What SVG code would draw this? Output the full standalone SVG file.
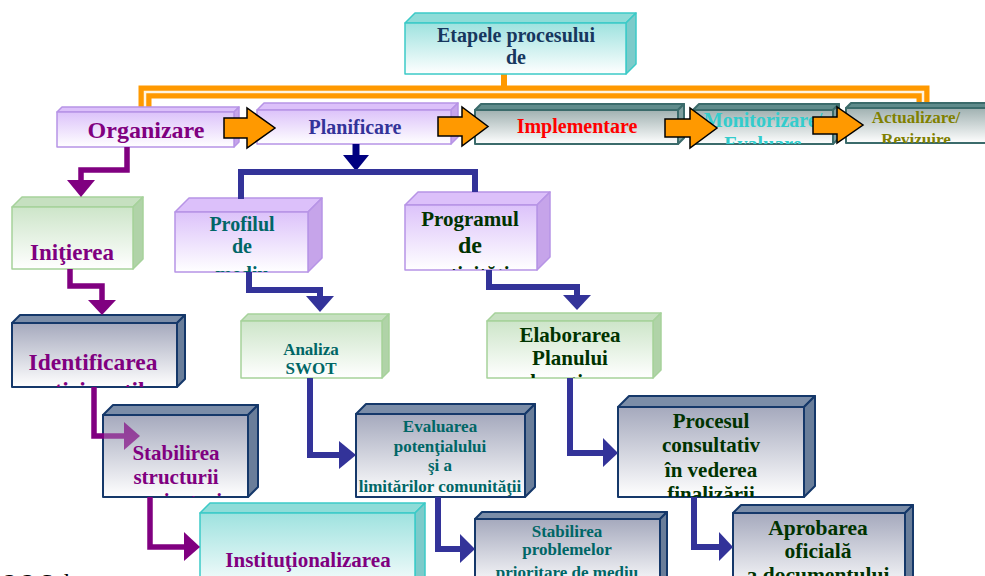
<svg xmlns="http://www.w3.org/2000/svg" width="985" height="576" viewBox="0 0 985 576">
<defs>
<linearGradient id="gLav" x1="0" y1="0" x2="0" y2="1"><stop offset="0" stop-color="#dcc2fa"/><stop offset="1" stop-color="#ffffff"/></linearGradient>
<linearGradient id="gGrn" x1="0" y1="0" x2="0" y2="1"><stop offset="0" stop-color="#cde5c9"/><stop offset="1" stop-color="#ffffff"/></linearGradient>
<linearGradient id="gTeal" x1="0" y1="0" x2="0" y2="1"><stop offset="0" stop-color="#9ee2df"/><stop offset="1" stop-color="#ffffff"/></linearGradient>
<linearGradient id="gSlate" x1="0" y1="0" x2="0" y2="1"><stop offset="0" stop-color="#a5a9bd"/><stop offset="1" stop-color="#ffffff"/></linearGradient>
<linearGradient id="gGt" x1="0" y1="0" x2="0" y2="1"><stop offset="0" stop-color="#a0b1b1"/><stop offset="1" stop-color="#ffffff"/></linearGradient>
<clipPath id="c1"><rect x="405" y="23" width="221" height="51"/></clipPath>
<clipPath id="c5"><rect x="693" y="110" width="140" height="34"/></clipPath>
<clipPath id="c6"><rect x="846" y="108" width="150" height="35"/></clipPath>
<clipPath id="c8"><rect x="175" y="212" width="133" height="60"/></clipPath>
<clipPath id="c9"><rect x="405" y="205" width="132" height="65"/></clipPath>
<clipPath id="c10"><rect x="12" y="323" width="165" height="64"/></clipPath>
<clipPath id="c12"><rect x="487" y="321" width="166" height="57"/></clipPath>
<clipPath id="c13"><rect x="103" y="415" width="145" height="82"/></clipPath>
<clipPath id="c15"><rect x="618" y="407" width="186" height="90"/></clipPath>
<clipPath id="c17"><rect x="475" y="519" width="185" height="70"/></clipPath>
<clipPath id="c18"><rect x="733" y="513" width="172" height="80"/></clipPath>
</defs>
<style>
text{font-family:"Liberation Serif","Times New Roman",serif;font-weight:bold;text-anchor:middle}
.lav{stroke:#b794e6;stroke-width:1.5;stroke-linejoin:round}
.lav .f{fill:url(#gLav)} .lav .t{fill:#dcc0fa} .lav .s{fill:#c6a4ea}
.grn{stroke:#a6d29b;stroke-width:1.5;stroke-linejoin:round}
.grn .f{fill:url(#gGrn)} .grn .t{fill:#c6e0c0} .grn .s{fill:#b0d3a8}
.teal{stroke:#3ccac7;stroke-width:1.5;stroke-linejoin:round}
.teal .f{fill:url(#gTeal)} .teal .t{fill:#8edcd8} .teal .s{fill:#7ccbca}
.slate{stroke:#15386a;stroke-width:2;stroke-linejoin:round}
.slate .f{fill:url(#gSlate)} .slate .t{fill:#7b8da8} .slate .s{fill:#6a7e9a}
.gt{stroke:#3b6b6b;stroke-width:2;stroke-linejoin:round}
.gt .f{fill:url(#gGt)} .gt .t{fill:#5f8b8b} .gt .s{fill:#7f9f9f}
text{stroke:none}
.pur{fill:#800080}.blu{fill:#333399}.tl{fill:#006666}.dg{fill:#003300}
.lp{fill:none;stroke:#800080;stroke-width:5.5}
.lb{fill:none;stroke:#333399;stroke-width:6}
.oa{fill:#ff9900;stroke:#000;stroke-width:1.5;stroke-linejoin:miter}
</style>
<text x="4" y="590" style="font-size:24px;font-weight:normal;text-anchor:start;fill:#000"><tspan font-weight="bold">2.2</tspan> Schema</text>
<g id="connectors-under">
<path d="M145,108 V92 H923 V104" fill="none" stroke="#ff9900" stroke-width="13"/>
<path d="M145,108 V92 H923 V104" fill="none" stroke="#fff4e0" stroke-width="2.5"/>
<line x1="504" y1="74" x2="504" y2="90" stroke="#ff9900" stroke-width="6"/>
</g>
<g id="n-etapele" class="teal">
<polygon class="t" points="405,23 415,13 636,13 626,23"/><polygon class="s" points="626,23 636,13 636,64 626,74"/><rect class="f" x="405" y="23" width="221" height="51"/>
<g clip-path="url(#c1)" style="font-size:20px;fill:#17375e"><text x="516" y="42">Etapele procesului</text><text x="516" y="64">de</text></g>
</g>
<g id="n-organizare" class="lav">
<polygon class="t" points="57,112 62,107 239,107 234,112"/><polygon class="s" points="234,112 239,107 239,142 234,147"/><rect class="f" x="57" y="112" width="177" height="35"/>
<text class="pur" x="146" y="138" style="font-size:24px">Organizare</text>
</g>
<g id="n-planificare" class="lav">
<polygon class="t" points="257,110 264,103 458,103 451,110"/><polygon class="s" points="451,110 458,103 458,137 451,144"/><rect class="f" x="257" y="110" width="194" height="34"/>
<text class="blu" x="355" y="134" style="font-size:20px">Planificare</text>
</g>
<g id="n-implementare" class="gt">
<polygon class="t" points="475,110 481,104 684,104 678,110"/><polygon class="s" points="678,110 684,104 684,138 678,144"/><rect class="f" x="475" y="110" width="203" height="34"/>
<text x="577" y="133" style="font-size:20px;fill:#ff0000">Implementare</text>
</g>
<g id="n-monitorizare" class="gt">
<polygon class="t" points="693,110 699,104 839,104 833,110"/><polygon class="s" points="833,110 839,104 839,138 833,144"/><rect class="f" x="693" y="110" width="140" height="34"/>
<g clip-path="url(#c5)" style="font-size:20px;fill:#33cccc"><text x="763" y="127">Monitorizare/</text><text x="763" y="151">Evaluare</text></g>
</g>
<g id="n-actualizare" class="gt">
<polygon class="t" points="846,108 851,103 1001,103 996,108"/><rect class="f" x="846" y="108" width="150" height="35"/>
<g clip-path="url(#c6)" style="font-size:17px;fill:#808000"><text x="916" y="123">Actualizare/</text><text x="916" y="145">Revizuire</text></g>
</g>
<g id="n-initierea" class="grn">
<polygon class="t" points="12,207 22,197 143,197 133,207"/><polygon class="s" points="133,207 143,197 143,259 133,269"/><rect class="f" x="12" y="207" width="121" height="62"/>
<text class="pur" x="72" y="260" style="font-size:23px">Iniţierea</text>
</g>
<g id="n-profilul" class="lav">
<polygon class="t" points="175,212 189,198 322,198 308,212"/><polygon class="s" points="308,212 322,198 322,258 308,272"/><rect class="f" x="175" y="212" width="133" height="60"/>
<g clip-path="url(#c8)" style="font-size:20px"><text class="tl" x="242" y="231">Profilul</text><text class="tl" x="242" y="253">de</text><text class="tl" x="242" y="281">mediu</text></g>
</g>
<g id="n-programul" class="lav">
<polygon class="t" points="405,205 418,192 550,192 537,205"/><polygon class="s" points="537,205 550,192 550,257 537,270"/><rect class="f" x="405" y="205" width="132" height="65"/>
<g clip-path="url(#c9)"><text class="dg" x="470" y="226" style="font-size:21px">Programul</text><text class="dg" x="470" y="253" style="font-size:24px">de</text><text class="dg" x="470" y="281" style="font-size:21px">activităţi</text></g>
</g>
<g id="n-identificarea" class="slate">
<polygon class="t" points="12,323 20,315 185,315 177,323"/><polygon class="s" points="177,323 185,315 185,379 177,387"/><rect class="f" x="12" y="323" width="165" height="64"/>
<g clip-path="url(#c10)" style="font-size:23.5px"><text class="pur" x="93" y="370">Identificarea</text><text class="pur" x="93" y="398">participanţilor</text></g>
</g>
<g id="n-analiza" class="grn">
<polygon class="t" points="241,321 248,314 389,314 382,321"/><polygon class="s" points="382,321 389,314 389,371 382,378"/><rect class="f" x="241" y="321" width="141" height="57"/>
<text class="tl" x="311" y="355" style="font-size:17px">Analiza</text><text class="tl" x="311" y="374" style="font-size:17px">SWOT</text>
</g>
<g id="n-elaborarea" class="grn">
<polygon class="t" points="487,321 495,313 661,313 653,321"/><polygon class="s" points="653,321 661,313 661,370 653,378"/><rect class="f" x="487" y="321" width="166" height="57"/>
<g clip-path="url(#c12)" style="font-size:21px"><text class="dg" x="570" y="342">Elaborarea</text><text class="dg" x="570" y="365">Planului</text><text class="dg" x="570" y="389">de acţiune</text></g>
</g>
<g id="n-stabilirea-structurii" class="slate">
<polygon class="t" points="103,415 113,405 258,405 248,415"/><polygon class="s" points="248,415 258,405 258,487 248,497"/><rect class="f" x="103" y="415" width="145" height="82"/>
<g clip-path="url(#c13)" style="font-size:21px"><text class="pur" x="176" y="460">Stabilirea</text><text class="pur" x="176" y="484">structurii</text><text class="pur" x="176" y="508">organizatorice</text></g>
</g>
<g id="n-evaluarea" class="slate">
<polygon class="t" points="356,414 366,404 535,404 525,414"/><polygon class="s" points="525,414 535,404 535,487 525,497"/><rect class="f" x="356" y="414" width="169" height="83"/>
<g style="font-size:17px"><text class="tl" x="440" y="432">Evaluarea</text><text class="tl" x="440" y="452">potenţialului</text><text class="tl" x="440" y="471">şi a</text><text class="tl" x="440" y="492">limitărilor comunităţii</text></g>
</g>
<g id="n-procesul" class="slate">
<polygon class="t" points="618,407 629,396 815,396 804,407"/><polygon class="s" points="804,407 815,396 815,486 804,497"/><rect class="f" x="618" y="407" width="186" height="90"/>
<g clip-path="url(#c15)" style="font-size:21px"><text class="dg" x="711" y="428">Procesul</text><text class="dg" x="711" y="452">consultativ</text><text class="dg" x="711" y="477">în vederea</text><text class="dg" x="711" y="501">finalizării</text></g>
</g>
<g id="n-institutionalizarea" class="teal">
<polygon class="t" points="200,513 210,503 425,503 415,513"/><polygon class="s" points="415,513 425,503 425,583 415,593"/><rect class="f" x="200" y="513" width="215" height="80"/>
<text class="pur" x="308" y="567" style="font-size:21px">Instituţionalizarea</text>
</g>
<g id="n-stabilirea-problemelor" class="slate">
<polygon class="t" points="475,519 482,512 667,512 660,519"/><polygon class="s" points="660,519 667,512 667,582 660,589"/><rect class="f" x="475" y="519" width="185" height="70"/>
<g clip-path="url(#c17)" style="font-size:17px"><text class="tl" x="567" y="537">Stabilirea</text><text class="tl" x="567" y="555">problemelor</text><text class="tl" x="567" y="578">prioritare de mediu</text></g>
</g>
<g id="n-aprobarea" class="slate">
<polygon class="t" points="733,513 741,505 913,505 905,513"/><polygon class="s" points="905,513 913,505 913,585 905,593"/><rect class="f" x="733" y="513" width="172" height="80"/>
<g clip-path="url(#c18)" style="font-size:21.5px"><text class="dg" x="818" y="535">Aprobarea</text><text class="dg" x="818" y="558">oficială</text><text class="dg" x="818" y="582">a documentului</text></g>
</g>
<g id="connectors">
<polygon class="oa" points="224,118 247,118 247,108 275,128 247,148 247,138 224,138"/>
<polygon class="oa" points="438,117 462,117 462,107 488,126.5 462,146 462,136 438,136"/>
<polygon class="oa" points="665,119 690,119 690,108 717,128 690,148 690,137 665,137"/>
<polygon class="oa" points="813,117 837,117 837,107 863,125 837,143 837,134 813,134"/>
<path class="lp" d="M127,147 V170 H81 V182"/><polygon fill="#800080" points="67,180 95,180 81,197"/>
<path class="lp" d="M70,269 V286 H102 V301"/><polygon fill="#800080" points="88,300 116,300 102,315"/>
<path class="lp" d="M94,387 V436 H104"/>
<g opacity="0.65"><path class="lp" d="M103,436 H125"/><polygon fill="#800080" points="124,422 124,450 140,436"/></g>
<path class="lp" d="M150,497 V547 H185"/><polygon fill="#800080" points="184,532 184,561 200,547"/>
<line x1="356" y1="144" x2="356" y2="156" stroke="#000080" stroke-width="7"/><polygon fill="#000080" points="343,155 369,155 356,171"/>
<path class="lb" d="M241,199 V172 H475 V192"/>
<path class="lb" d="M249,272 V290 H320 V297"/><polygon fill="#333399" points="306,296 334,296 320,312"/>
<path class="lb" d="M489,270 V287 H577 V296"/><polygon fill="#333399" points="563,295 591,295 577,310"/>
<path class="lb" d="M310,378 V455 H340"/><polygon fill="#333399" points="339,441 339,469 356,455"/>
<path class="lb" d="M438,497 V549 H461"/><polygon fill="#333399" points="460,534 460,563 475,549"/>
<path class="lb" d="M570,378 V453 H604"/><polygon fill="#333399" points="603,438 603,467 618,453"/>
<path class="lb" d="M694,497 V547 H720"/><polygon fill="#333399" points="719,532 719,561 733,547"/>
</g>
</svg>
